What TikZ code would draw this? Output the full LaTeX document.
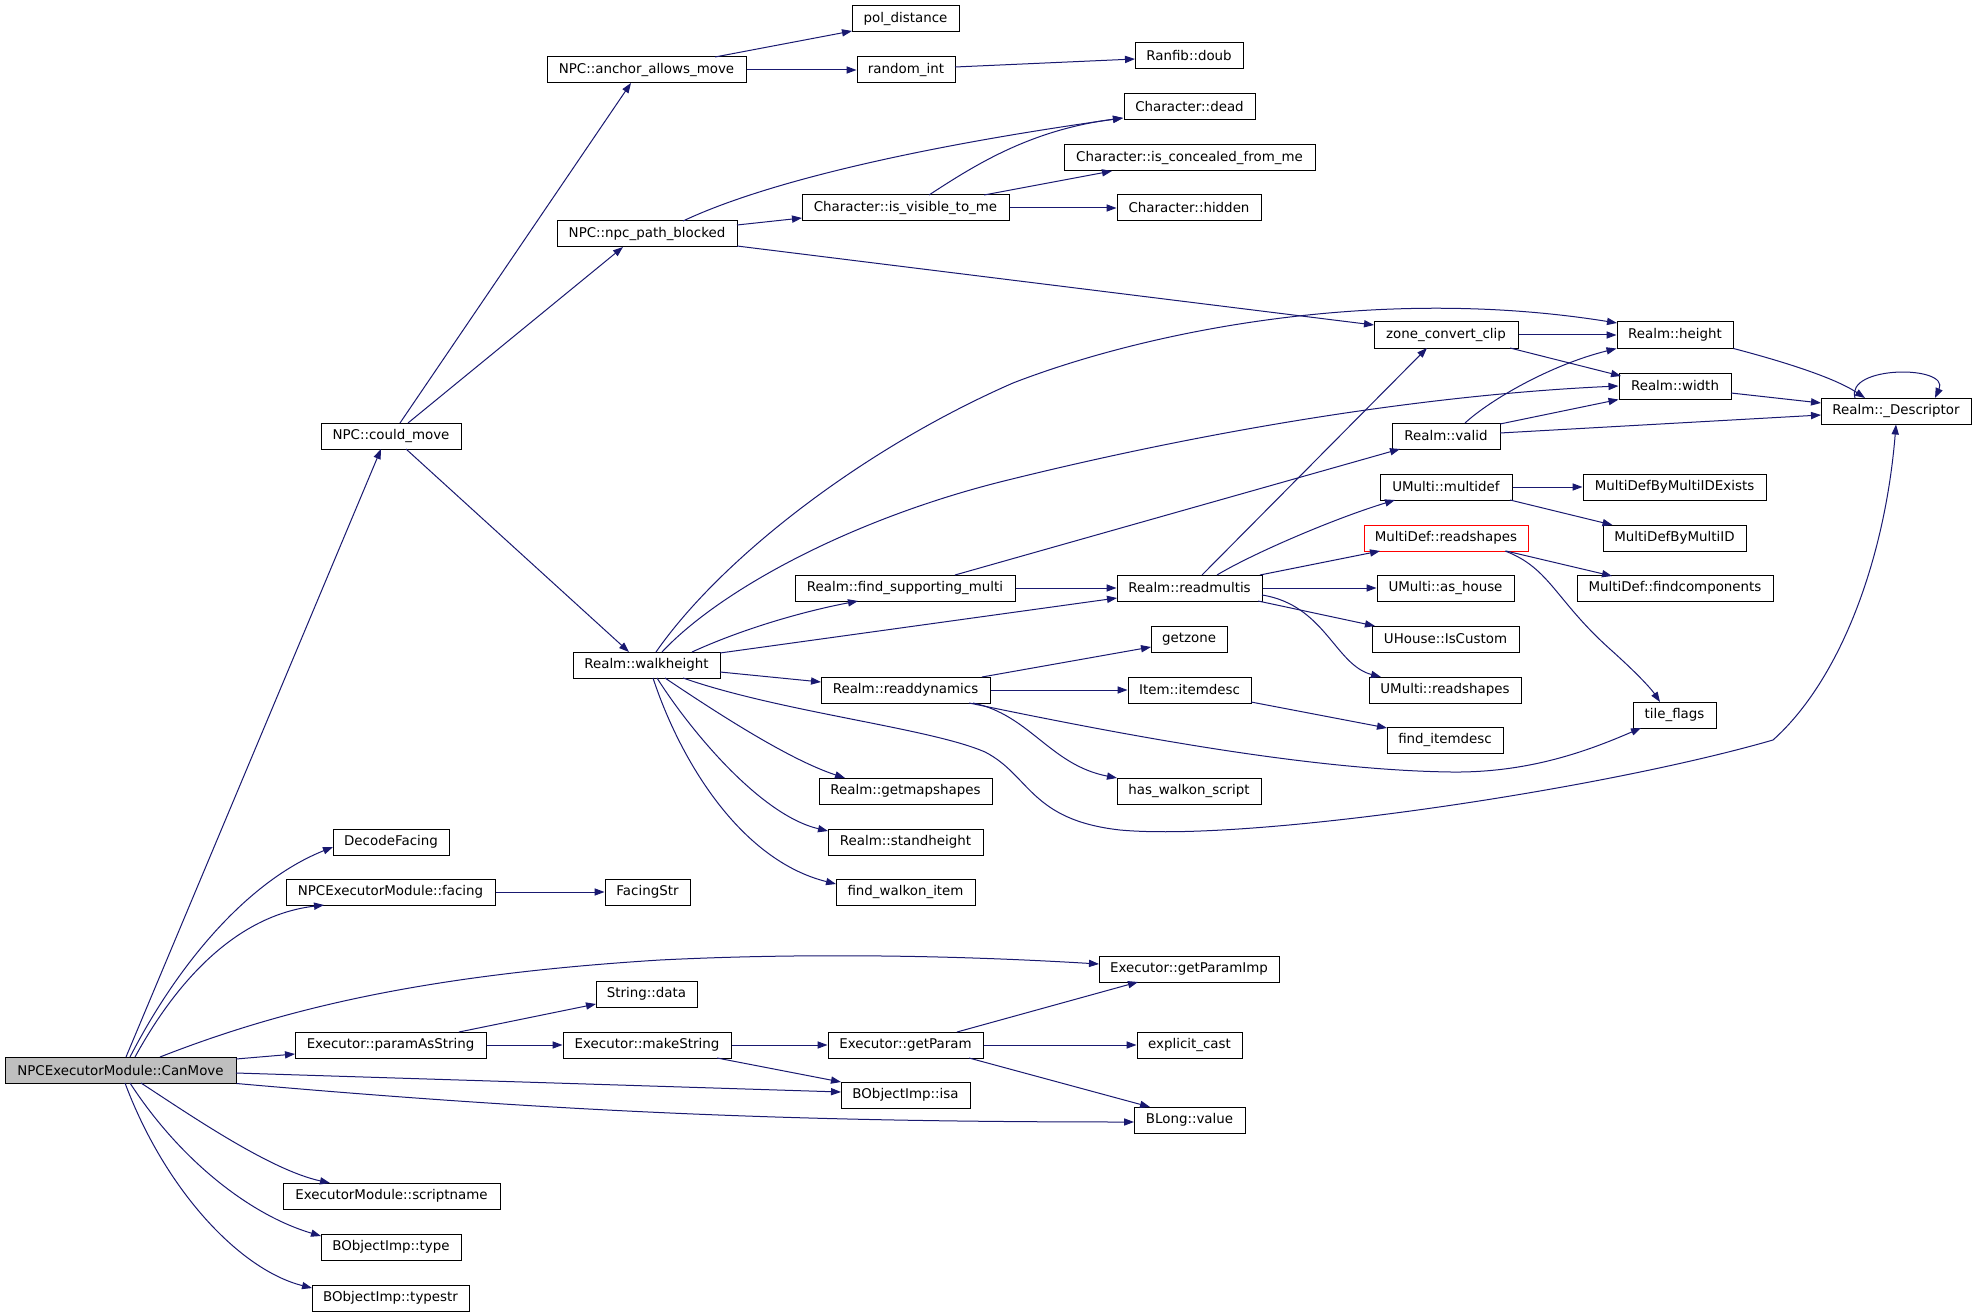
\documentclass[tikz,border=0pt]{standalone}
\usepackage{fontspec}
\setmainfont{DejaVu Sans}
\usetikzlibrary{arrows.meta,calc}
\definecolor{edgeblue}{HTML}{191970}
\definecolor{cmgrey}{HTML}{BFBFBF}
\begin{document}
\begin{tikzpicture}[x=0.5pt,y=-0.5pt,
  box/.style={draw=black,line width=0.5pt,inner sep=0pt,minimum height=13pt,
    font=\fontsize{6.7}{8}\selectfont,text=black,fill=white},
  redbox/.style={box,draw=red},
  edge/.style={draw=edgeblue,line width=0.5pt,-{Triangle[length=5pt,width=3.6pt]}}]
\path[fill=white] (0,0) rectangle (1976,1316);
\useasboundingbox (0,0) rectangle (1976,1316);

% ---- nodes ----
\node[box,fill=cmgrey,minimum width=115.5pt] (cm) at (120.5,1070) {NPCExecutorModule::CanMove};
\node[box,minimum width=70pt] (could) at (391,436) {NPC::could\_move};
\node[box,minimum width=99.5pt] (anchor) at (646.5,70) {NPC::anchor\_allows\_move};
\node[box,minimum width=90pt] (npcpb) at (647,234) {NPC::npc\_path\_blocked};
\node[box,minimum width=53.5pt] (pol) at (905.5,19) {pol\_distance};
\node[box,minimum width=49pt] (rint) at (906,70) {random\_int};
\node[box,minimum width=54pt] (ranfib) at (1189,56) {Ranfib::doub};
\node[box,minimum width=65.5pt] (dead) at (1189.5,107) {Character::dead};
\node[box,minimum width=125.5pt] (conc) at (1189.5,158) {Character::is\_concealed\_from\_me};
\node[box,minimum width=103.5pt] (vis) at (905.5,208) {Character::is\_visible\_to\_me};
\node[box,minimum width=72pt] (hidden) at (1189,208) {Character::hidden};
\node[box,minimum width=72pt] (zcc) at (1446,335) {zone\_convert\_clip};
\node[box,minimum width=58pt] (height) at (1675,335) {Realm::height};
\node[box,minimum width=56pt] (width) at (1675,386) {Realm::width};
\node[box,minimum width=75pt] (desc) at (1896,411) {Realm::\_Descriptor};
\node[box,minimum width=54pt] (valid) at (1446,436) {Realm::valid};
\node[box,minimum width=66pt] (multidef) at (1446,487) {UMulti::multidef};
\node[box,minimum width=91.5pt] (mdbmie) at (1674.5,487) {MultiDefByMultiIDExists};
\node[redbox,minimum width=82pt] (mdrs) at (1446,538) {MultiDef::readshapes};
\node[box,minimum width=71.5pt] (mdbmi) at (1674.5,538) {MultiDefByMultiID};
\node[box,minimum width=68.5pt] (ashouse) at (1445.5,588) {UMulti::as\_house};
\node[box,minimum width=98pt] (findcomp) at (1675,588) {MultiDef::findcomponents};
\node[box,minimum width=73.5pt] (iscustom) at (1445.5,639) {UHouse::IsCustom};
\node[box,minimum width=76pt] (umrs) at (1445,690) {UMulti::readshapes};
\node[box,minimum width=41.5pt] (tile) at (1674.5,715) {tile\_flags};
\node[box,minimum width=58pt] (finddesc) at (1445,740) {find\_itemdesc};
\node[box,minimum width=73.5pt] (walk) at (646.5,665) {Realm::walkheight};
\node[box,minimum width=110pt] (fsm) at (905,588) {Realm::find\_supporting\_multi};
\node[box,minimum width=72.5pt] (readm) at (1189.5,588) {Realm::readmultis};
\node[box,minimum width=38pt] (getzone) at (1189,639) {getzone};
\node[box,minimum width=84.5pt] (readdyn) at (905.5,690) {Realm::readdynamics};
\node[box,minimum width=61.5pt] (itemdesc) at (1189.5,690) {Item::itemdesc};
\node[box,minimum width=86.5pt] (getmap) at (905.5,791) {Realm::getmapshapes};
\node[box,minimum width=72pt] (hws) at (1189,791) {has\_walkon\_script};
\node[box,minimum width=77.5pt] (standh) at (905.5,842) {Realm::standheight};
\node[box,minimum width=69.5pt] (fwi) at (905.5,892) {find\_walkon\_item};
\node[box,minimum width=58pt] (decode) at (391,842) {DecodeFacing};
\node[box,minimum width=104.5pt] (facing) at (390.5,892) {NPCExecutorModule::facing};
\node[box,minimum width=42.5pt] (facingstr) at (647.5,892) {FacingStr};
\node[box,minimum width=90pt] (gpi) at (1189,969) {Executor::getParamImp};
\node[box,minimum width=50.5pt] (sdata) at (646.5,994) {String::data};
\node[box,minimum width=95.5pt] (pas) at (390.5,1045) {Executor::paramAsString};
\node[box,minimum width=84pt] (mks) at (647,1045) {Executor::makeString};
\node[box,minimum width=77.5pt] (gp) at (905.5,1045) {Executor::getParam};
\node[box,minimum width=52.5pt] (ecast) at (1189.5,1045) {explicit\_cast};
\node[box,minimum width=64.5pt] (isa) at (905.5,1095) {BObjectImp::isa};
\node[box,minimum width=55.5pt] (blong) at (1189.5,1120) {BLong::value};
\node[box,minimum width=108.5pt] (script) at (391.5,1196) {ExecutorModule::scriptname};
\node[box,minimum width=70pt] (type) at (391,1247) {BObjectImp::type};
\node[box,minimum width=78.5pt] (typestr) at (390.5,1298) {BObjectImp::typestr};

% ---- edges from CanMove ----
\draw[edge] ($(cm)+(5.5,-13)$) -- ($(could)+(-10,13)$);
\draw[edge] ($(cm)+(9.5,-13)$) .. controls (180,960) and (250,880) .. ($(decode)+(-58,5)$);
\draw[edge] ($(cm)+(14.5,-13)$) .. controls (180,975) and (240,915) .. ($(facing)+(-66.5,13)$);
\draw[edge] ($(cm)+(39.5,-13)$) .. controls (280,1010) and (420,975) .. (660,960)
  .. controls (800,953) and (950,955) .. ($(gpi)+(-90,-5)$);
\draw[edge] ($(cm)+(115.5,-11)$) -- ($(pas)+(-95.5,9)$);
\draw[edge] ($(cm)+(115.5,3)$) -- ($(isa)+(-64.5,-3)$);
\draw[edge] (cm.south east) .. controls (560,1112) and (800,1122) .. ($(blong)+(-55.5,2)$);
\draw[edge] ($(cm)+(20.5,13)$) .. controls (190,1115) and (270,1170) .. ($(script)+(-61.5,-13)$);
\draw[edge] ($(cm)+(9.5,13)$) .. controls (180,1160) and (250,1215) .. ($(type)+(-70,-11)$);
\draw[edge] ($(cm)+(4.5,13)$) .. controls (165,1190) and (240,1270) .. ($(typestr)+(-78.5,-10)$);

% ---- lower chain ----
\draw[edge] (facing.east) -- (facingstr.west);
\draw[edge] ($(pas)+(68.5,-13)$) -- ($(sdata)+(-50.5,10)$);
\draw[edge] (pas.east) -- (mks.west);
\draw[edge] (mks.east) -- (gp.west);
\draw[edge] ($(mks)+(70,13)$) -- ($(isa)+(-64.5,-13)$);
\draw[edge] ($(gp)+(51.5,-13)$) -- ($(gpi)+(-51,13)$);
\draw[edge] (gp.east) -- (ecast.west);
\draw[edge] ($(gp)+(63.5,13)$) -- ($(blong)+(-39.5,-13)$);

% ---- could_move ----
\draw[edge] ($(could)+(9,-13)$) -- ($(anchor)+(-15.5,13)$);
\draw[edge] ($(could)+(17,-13)$) -- ($(npcpb)+(-24,13)$);
\draw[edge] ($(could)+(15,13)$) -- ($(walk)+(-17.5,-13)$);

% ---- anchor_allows_move ----
\draw[edge] ($(anchor)+(68.5,-13)$) -- ($(pol)+(-53.5,12)$);
\draw[edge] (anchor.east) -- (rint.west);
\draw[edge] ($(rint)+(49,-3)$) -- ($(ranfib)+(-54,3)$);

% ---- npc_path_blocked ----
\draw[edge] ($(npcpb)+(36,-13)$) .. controls (770,180) and (930,145) .. ($(dead)+(-66.5,11)$);
\draw[edge] ($(npcpb)+(90,-9)$) -- ($(vis)+(-103.5,10)$);
\draw[edge] ($(npcpb)+(90,12)$) -- ($(zcc)+(-72,-10)$);

% ---- is_visible_to_me ----
\draw[edge] ($(vis)+(23.5,-13)$) .. controls (975,165) and (1030,130) .. ($(dead)+(-66.5,11)$);
\draw[edge] ($(vis)+(78.5,-13)$) -- ($(conc)+(-77.5,13)$);
\draw[edge] (vis.east) -- (hidden.west);

% ---- zone_convert_clip, height, width, valid ----
\draw[edge] (zcc.east) -- (height.west);
\draw[edge] ($(zcc)+(64,13)$) -- ($(width)+(-54,-10)$);
\draw[edge] (height.south east) .. controls (1785,362) and (1835,378) .. ($(desc)+(-31,-13)$);
\draw[edge] ($(width)+(56,7)$) -- ($(desc)+(-75,-8)$);
\draw[edge] ($(desc)+(-41,-13)$) .. controls (1845,365) and (1950,365) .. ($(desc)+(39,-13)$);
\draw[edge] ($(valid)+(19,-13)$) .. controls (1490,400) and (1550,365) .. (height.south west);
\draw[edge] ($(valid)+(54,-12)$) -- (width.south west);
\draw[edge] ($(valid)+(54,-3)$) -- ($(desc)+(-75,4)$);

% ---- walkheight ----
\draw[edge] ($(walk)+(9.5,-13)$) .. controls (720,560) and (860,450) .. (1013,383)
  .. controls (1150,330) and (1380,285) .. ($(height)+(-58,-12)$);
\draw[edge] ($(walk)+(15.5,-13)$) .. controls (720,590) and (850,520) .. (1000,482)
  .. controls (1200,432) and (1420,395) .. (width.west);
\draw[edge] ($(walk)+(45.5,-13)$) .. controls (740,630) and (800,612) .. ($(fsm)+(-47,13)$);
\draw[edge] ($(walk)+(73.5,-12)$) -- ($(readm)+(-72.5,10)$);
\draw[edge] ($(walk)+(73.5,7)$) -- ($(readdyn)+(-84.5,-8)$);
\draw[edge] ($(walk)+(36.5,13)$) .. controls (780,712) and (930,728) .. (985,752)
  .. controls (1030,775) and (1030,820) .. (1120,830)
  .. controls (1250,842) and (1600,790) .. (1773,740)
  .. controls (1840,680) and (1885,560) .. (desc.south);
\draw[edge] ($(walk)+(18.5,13)$) .. controls (720,715) and (790,760) .. ($(getmap)+(-60.5,-13)$);
\draw[edge] ($(walk)+(10.5,13)$) .. controls (690,730) and (760,815) .. ($(standh)+(-77.5,-11)$);
\draw[edge] ($(walk)+(6.5,13)$) .. controls (680,760) and (740,860) .. ($(fwi)+(-69.5,-8)$);

% ---- find_supporting_multi ----
\draw[edge] (fsm.east) -- (readm.west);
\draw[edge] ($(fsm)+(50,-13)$) -- ($(valid)+(-46,13)$);

% ---- readmultis ----
\draw[edge] ($(readm)+(12.5,-13)$) -- ($(zcc)+(-19,13)$);
\draw[edge] ($(readm)+(27.5,-13)$) .. controls (1250,555) and (1330,520) .. ($(multidef)+(-51,13)$);
\draw[edge] ($(readm)+(70.5,-13)$) -- ($(mdrs)+(-66,13)$);
\draw[edge] (readm.east) -- (ashouse.west);
\draw[edge] ($(readm)+(68.5,13)$) -- ($(iscustom)+(-70.5,-13)$);
\draw[edge] ($(readm)+(72.5,7)$) .. controls (1325,605) and (1335,665) .. ($(umrs)+(-64,-13)$);

% ---- readdynamics ----
\draw[edge] ($(readdyn)+(76.5,-13)$) -- ($(getzone)+(-38,8)$);
\draw[edge] (readdyn.east) -- (itemdesc.west);
\draw[edge] ($(readdyn)+(63.5,13)$) .. controls (1100,730) and (1300,770) .. (1451,772)
  .. controls (1530,773) and (1590,750) .. ($(tile)+(-33.5,13)$);
\draw[edge] ($(readdyn)+(67.5,13)$) .. controls (1030,715) and (1050,765) .. ($(hws)+(-72,-13)$);
\draw[edge] ($(itemdesc)+(61.5,12)$) -- ($(finddesc)+(-58,-12)$);

% ---- multidef / readshapes ----
\draw[edge] (multidef.east) -- (mdbmie.west);
\draw[edge] ($(multidef)+(64,13)$) -- ($(mdbmi)+(-62,-13)$);
\draw[edge] ($(mdrs)+(60,13)$) -- ($(findcomp)+(-63,-12)$);
\draw[edge] ($(mdrs)+(59,13)$) .. controls (1550,568) and (1555,600) .. (1611,650)
  .. controls (1640,676) and (1652,690) .. ($(tile)+(-14.5,-13)$);
\end{tikzpicture}
\end{document}
